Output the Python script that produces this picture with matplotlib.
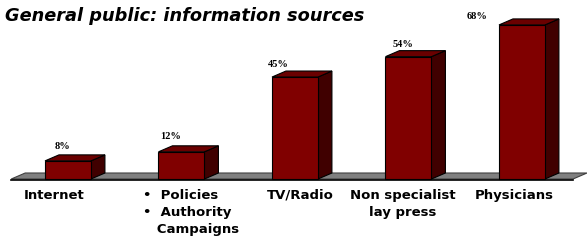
import matplotlib

matplotlib.use("Agg")
import matplotlib.pyplot as plt
from matplotlib.patches import Polygon

# data
categories = ["Internet", "\u2022  Policies\n\u2022  Authority\n   Campaigns",
              "TV/Radio", "Non specialist\nlay press", "Physicians"]
values = [8, 12, 45, 54, 68]
value_labels = ["8%", "12%", "45%", "54%", "68%"]
title = "General public: information sources"

# style / geometry (data units: x = bar index, y = percent)
BAR_W = 0.405
DX, DY = 0.123, 2.65          # 3-D depth offset
FRONT, TOP, SIDE = "#800000", "#6a0000", "#400000"
label_dx = [-0.05, -0.10, -0.15, -0.05, -0.40]   # value label nudges
label_dy = [3.9, 4.3, 3.1, 2.9, 0.9]
cat_x = [-0.12, -0.34, 0.05, -0.05, -0.07]
cat_ha = ["center", "left", "center", "center", "center"]

fig = plt.figure(figsize=(5.87, 2.42), dpi=100)
ax = fig.add_axes([0, 0, 1, 1])
ax.set_xlim(-0.599, 4.573)
ax.set_ylim(-27.8, 79.0)
ax.axis("off")

# floor
fl, fr = -0.50, 4.45
ax.add_patch(Polygon([(fl, 0), (fr, 0), (fr + DX, DY), (fl + DX, DY)],
                     closed=True, facecolor="#808080", edgecolor="#404040",
                     lw=0.8, zorder=1))
ax.plot([fl, fr], [-0.3, -0.3], color="black", lw=1.2, zorder=1)

for i, v in enumerate(values):
    x0, x1 = i - BAR_W / 2, i + BAR_W / 2
    front = [(x0, 0), (x1, 0), (x1, v), (x0, v)]
    top = [(x0, v), (x1, v), (x1 + DX, v + DY), (x0 + DX, v + DY)]
    side = [(x1, 0), (x1 + DX, DY), (x1 + DX, v + DY), (x1, v)]
    for pts, c in ((side, SIDE), (top, TOP), (front, FRONT)):
        ax.add_patch(Polygon(pts, closed=True, facecolor=c, edgecolor="black",
                             lw=0.8, zorder=2 + i))
    ax.text(i + label_dx[i], v + DY + label_dy[i], value_labels[i],
            ha="center", va="center", fontsize=7.5, fontweight="bold",
            family="Liberation Serif")
    ax.text(i + cat_x[i], -4.2, categories[i], ha=cat_ha[i], va="top",
            fontsize=9.5, fontweight="bold", family="DejaVu Sans",
            linespacing=1.4,
            multialignment="center" if cat_ha[i] == "center" else "left")

fig.text(0.009, 0.935, title, ha="left", va="center", fontsize=12.8,
         fontweight="bold", fontstyle="italic", family="DejaVu Sans")

fig.savefig("out.png", dpi=100)
